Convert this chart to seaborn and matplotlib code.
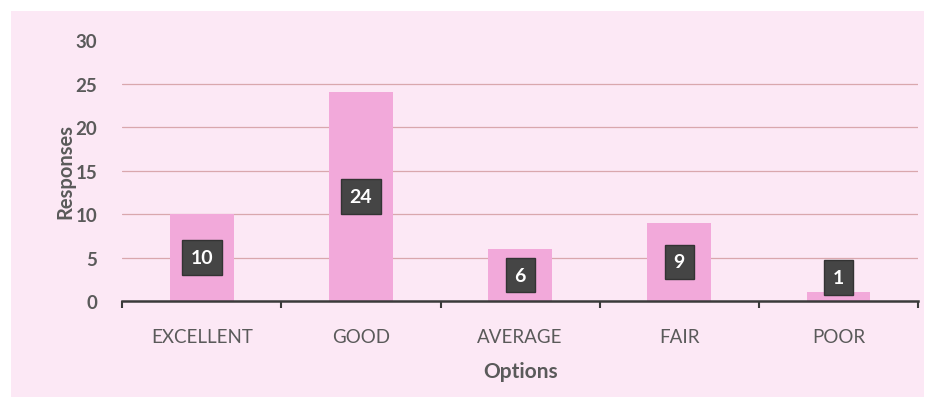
import matplotlib
matplotlib.use("Agg")
import matplotlib.pyplot as plt
import seaborn as sns
import pandas as pd
import numpy as np

categories = ["EXCELLENT", "GOOD", "AVERAGE", "FAIR", "POOR"]
responses = [10, 24, 6, 9, 1]
yticks = [0, 5, 10, 15, 20, 25, 30]

sns.set_theme(style="white")
plt.rcParams['font.family'] = ['Lato', 'DejaVu Sans']

df = pd.DataFrame({"Options": categories, "Responses": responses})

bg = "#fce8f5"
fig = plt.figure(figsize=(9.33, 4.10), dpi=100, facecolor="#ffffff")
fig.patches.append(plt.Rectangle((0.012, 0.03), 0.978, 0.94, transform=fig.transFigure,
                                 facecolor=bg, edgecolor="none", zorder=-10))
ax = fig.add_axes([0.131, 0.263, 0.853, 0.637])
ax.set_facecolor(bg)

sns.barplot(data=df, x="Options", y="Responses", color="#f2a9da", width=0.4,
            saturation=1, ax=ax, zorder=2, edgecolor="none", linewidth=0)

ax.set_ylim(0, 30)
ax.set_xlim(-0.5, len(categories) - 0.5)
ax.set_yticks(yticks)
for y in yticks[1:-1]:
    ax.axhline(y, color="#d9a7ad", lw=0.9, zorder=1)

for s in ["top", "right", "left"]:
    ax.spines[s].set_visible(False)
ax.spines["bottom"].set_color("#3a3a3a")
ax.spines["bottom"].set_linewidth(1.8)
ax.spines["bottom"].set_zorder(3)

ax.set_xticks(np.arange(len(categories)))
ax.set_xticklabels(categories, fontsize=13.5, color="#5a5a5a")
ax.tick_params(axis="x", which="major", length=0, pad=19, bottom=True)
ax.set_xticks(np.arange(-0.5, len(categories)), minor=True)
ax.tick_params(axis="x", which="minor", length=5, width=1.5, color="#3a3a3a",
               direction="out", bottom=True)
ax.tick_params(axis="y", length=0, pad=18, labelsize=13.5, labelcolor="#5a5a5a")
for t in ax.get_yticklabels():
    t.set_fontweight("bold")

ax.set_xlabel("Options", fontsize=15, fontweight="bold", color="#5a5a5a", labelpad=12)
ax.set_ylabel("Responses", fontsize=14.5, fontweight="bold", color="#5a5a5a", labelpad=0)

for i, v in enumerate(responses):
    ypos = max(v / 2, 2.7)
    ax.text(i, ypos, str(v), ha="center", va="center", fontsize=14, fontweight="bold",
            color="white", zorder=5,
            bbox=dict(boxstyle="square,pad=0.45", facecolor="#454545", edgecolor="#333333"))

fig.savefig("out.png", dpi=100, facecolor=fig.get_facecolor())
